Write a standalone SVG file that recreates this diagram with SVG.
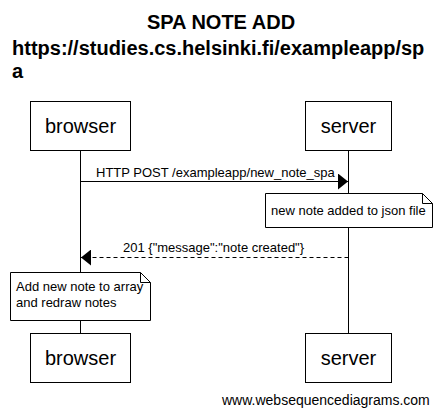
<svg xmlns="http://www.w3.org/2000/svg" width="442" height="416" viewBox="0 0 442 416">
<style>
text{font-family:"Liberation Sans",Arial,sans-serif;fill:#000}
.title{font-size:20px;font-weight:bold}
.actor{font-size:20px;text-anchor:middle}
.lbl{font-size:13px}
.box{fill:#fff;stroke:#000;stroke-width:1}
.life{stroke:#000;stroke-width:1}
.msg{stroke:#000;stroke-width:1;fill:none}
</style>
<defs>
<marker id="ah" markerWidth="10" markerHeight="16" refX="10" refY="8" orient="auto" markerUnits="userSpaceOnUse">
<path d="M0,0 L10,8 L0,16 Z" fill="#000"/>
</marker>
</defs>
<rect width="442" height="416" fill="#fff"/>
<g id="title">
<text class="title" x="221" y="29" text-anchor="middle">SPA NOTE ADD</text>
<text class="title" x="12" y="55">https://studies.cs.helsinki.fi/exampleapp/sp</text>
<text class="title" x="12" y="78">a</text>
</g>
<g id="connectors">
<line class="life" x1="80.5" y1="150" x2="80.5" y2="333"/>
<line class="life" x1="348.5" y1="150" x2="348.5" y2="333"/>
<line class="msg" x1="80.5" y1="181.5" x2="348" y2="181.5" marker-end="url(#ah)"/>
<text class="lbl" x="96" y="177">HTTP POST /exampleapp/new_note_spa</text>
<line class="msg" x1="348.5" y1="257.5" x2="81" y2="257.5" stroke-dasharray="4,3" marker-end="url(#ah)"/>
<text class="lbl" x="123" y="252">201 {"message":"note created"}</text>
</g>
<g id="browser-top">
<rect class="box" x="30.5" y="101.5" width="100" height="49"/>
<text class="actor" x="80.5" y="133">browser</text>
</g>
<g id="server-top">
<rect class="box" x="305.5" y="101.5" width="86" height="49"/>
<text class="actor" x="348.5" y="133">server</text>
</g>
<g id="note-server">
<path class="box" d="M265.5,193.5 H422.5 L432.5,203.5 V227.5 H265.5 Z"/>
<path class="msg" d="M422.5,193.5 V203.5 H432.5"/>
<text class="lbl" x="271" y="215">new note added to json file</text>
</g>
<g id="note-browser">
<path class="box" d="M10.5,272.5 H140.5 L150.5,282.5 V320.5 H10.5 Z"/>
<path class="msg" d="M140.5,272.5 V282.5 H150.5"/>
<text class="lbl" x="16" y="291">Add new note to array</text>
<text class="lbl" x="16" y="307">and redraw notes</text>
</g>
<g id="browser-bottom">
<rect class="box" x="30.5" y="333.5" width="100" height="49"/>
<text class="actor" x="80.5" y="365">browser</text>
</g>
<g id="server-bottom">
<rect class="box" x="305.5" y="333.5" width="86" height="49"/>
<text class="actor" x="348.5" y="365">server</text>
</g>
<text x="222" y="405" style="font-size:14px">www.websequencediagrams.com</text>
</svg>
